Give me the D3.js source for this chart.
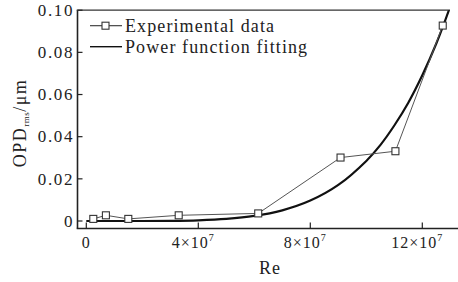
<!DOCTYPE html>
<html><head><meta charset="utf-8">
<script src="https://cdn.jsdelivr.net/npm/d3@7"></script>
<style>
html,body{margin:0;padding:0;background:#fff;}
svg{display:block;}
svg text{font-family:'Liberation Serif','Times New Roman',Times,'DejaVu Serif',serif;}
</style></head>
<body>
<svg id="c" width="458" height="282"></svg>
<script>
// Experimental data (Re, OPD_rms in µm)
const expRe  = [0.25e7, 0.7e7, 1.5e7, 3.3e7, 6.14e7, 9.08e7, 11.04e7, 12.73e7];
const expOPD = [0.0010, 0.0027, 0.0010, 0.0027, 0.0036, 0.0301, 0.0331, 0.0927];
// Power function fitting curve
const fitRe  = [0, 1e7, 2e7, 3e7, 4e7, 5e7, 6e7, 7e7, 8e7, 9e7, 10e7, 10.5e7, 11e7, 11.5e7, 12e7, 12.5e7, 12.95e7, 13.3e7];
const fitOPD = [0, 0.00000, 0.00001, 0.00008, 0.00034, 0.00099, 0.00239, 0.00506, 0.00967, 0.0171, 0.0285, 0.0360, 0.0453, 0.0561, 0.0691, 0.0842, 0.1000, 0.1140];
const xTicks = [0, 4e7, 8e7, 12e7];
const xTickLabels = ["0", "4×10", "8×10", "12×10"];
const xTickExp = ["", "7", "7", "7"];
const yTicks = [0, 0.02, 0.04, 0.06, 0.08, 0.10];
const yTickLabels = ["0", "0.02", "0.04", "0.06", "0.08", "0.10"];
const legendLabels = ["Experimental data", "Power function fitting"];

const FONT = "'Liberation Serif','Times New Roman',Times,serif";
const svg = d3.select("#c").attr("font-family", FONT);
const x = d3.scaleLinear().domain([0, 12e7]).range([86.3, 422.3]);
const y = d3.scaleLinear().domain([0, 0.10]).range([221, 10.2]);
const axL = 77.5, axB = 228.5, right = 458;

svg.append("defs").append("clipPath").attr("id","clip")
  .append("rect").attr("x", axL).attr("y", y(0.10)).attr("width", right-axL).attr("height", axB - y(0.10));

// Frame lines
svg.append("line").attr("x1", axL).attr("x2", axL).attr("y1", y(0.10)).attr("y2", axB).attr("stroke","#222").attr("stroke-width",1.6);
svg.append("line").attr("x1", axL-0.8).attr("x2", right).attr("y1", axB).attr("y2", axB).attr("stroke","#222").attr("stroke-width",1.6);
svg.append("line").attr("x1", axL-0.8).attr("x2", 450).attr("y1", y(0.10)).attr("y2", y(0.10)).attr("stroke","#333").attr("stroke-width",1.2);

// Y ticks
yTicks.forEach((t,i)=>{
  svg.append("line").attr("x1",axL).attr("x2",axL+5).attr("y1",y(t)).attr("y2",y(t)).attr("stroke","#222").attr("stroke-width",1.2);
  svg.append("text").attr("x",74).attr("y",y(t)).attr("dy","0.34em").attr("text-anchor","end").attr("font-family",FONT)
    .attr("font-size",17).attr("letter-spacing","1.6px").attr("fill","#222").text(yTickLabels[i]);
});
// X ticks
xTicks.forEach((t,i)=>{
  svg.append("line").attr("x1",x(t)).attr("x2",x(t)).attr("y1",axB).attr("y2",axB-6).attr("stroke","#222").attr("stroke-width",1.2);
  const tx = svg.append("text").attr("x",x(t) - (xTickExp[i] ? 5 : 0)).attr("y",248).attr("text-anchor","middle").attr("font-family",FONT)
    .attr("font-size",16).attr("letter-spacing","1px").attr("fill","#222");
  tx.append("tspan").text(xTickLabels[i]);
  if (xTickExp[i]) tx.append("tspan").attr("dy",-7).attr("font-size",10).text(xTickExp[i]);
});

// Axis titles
svg.append("text").attr("x",270).attr("y",274).attr("text-anchor","middle").attr("font-family",FONT).attr("font-size",18).attr("letter-spacing","1px").attr("fill","#222").text("Re");
const yl = svg.append("text").attr("transform","translate(26,123) rotate(-90)").attr("text-anchor","middle").attr("font-family",FONT)
  .attr("font-size",18).attr("letter-spacing","1.5px").attr("fill","#222");
yl.append("tspan").text("OPD");
yl.append("tspan").attr("font-size",9).attr("dy",3).attr("letter-spacing","0.5px").text("rms");
yl.append("tspan").attr("dy",-3).text("/μm");

const g = svg.append("g").attr("clip-path","url(#clip)");
// Fit curve
const fitPts = fitRe.map((r,i)=>[r, fitOPD[i]]);
g.append("path").datum(fitPts)
  .attr("d", d3.line().x(d=>x(d[0])).y(d=>y(d[1])).curve(d3.curveCatmullRom))
  .attr("fill","none").attr("stroke","#111").attr("stroke-width",2.2);
// Experimental
const expPts = expRe.map((r,i)=>[r, expOPD[i]]);
g.append("path").datum(expPts)
  .attr("d", d3.line().x(d=>x(d[0])).y(d=>y(d[1])))
  .attr("fill","none").attr("stroke","#555").attr("stroke-width",1);
g.selectAll("rect.pt").data(expPts).enter().append("rect")
  .attr("x",d=>x(d[0])-3.5).attr("y",d=>y(d[1])-3.5).attr("width",7).attr("height",7)
  .attr("fill","#fff").attr("stroke","#333").attr("stroke-width",1.1);

// Legend
svg.append("line").attr("x1",90).attr("x2",122).attr("y1",25.7).attr("y2",25.7).attr("stroke","#333").attr("stroke-width",1.1);
svg.append("rect").attr("x",102).attr("y",22.2).attr("width",7).attr("height",7).attr("fill","#fff").attr("stroke","#333").attr("stroke-width",1.1);
svg.append("line").attr("x1",90).attr("x2",122).attr("y1",46.7).attr("y2",46.7).attr("stroke","#111").attr("stroke-width",1.4);
legendLabels.forEach((l,i)=>{
  svg.append("text").attr("x",125).attr("y",i===0?32.3:53.3).attr("font-family",FONT).attr("font-size",18).attr("letter-spacing","1.1px").attr("fill","#222").text(l);
});
</script>
</body></html>
